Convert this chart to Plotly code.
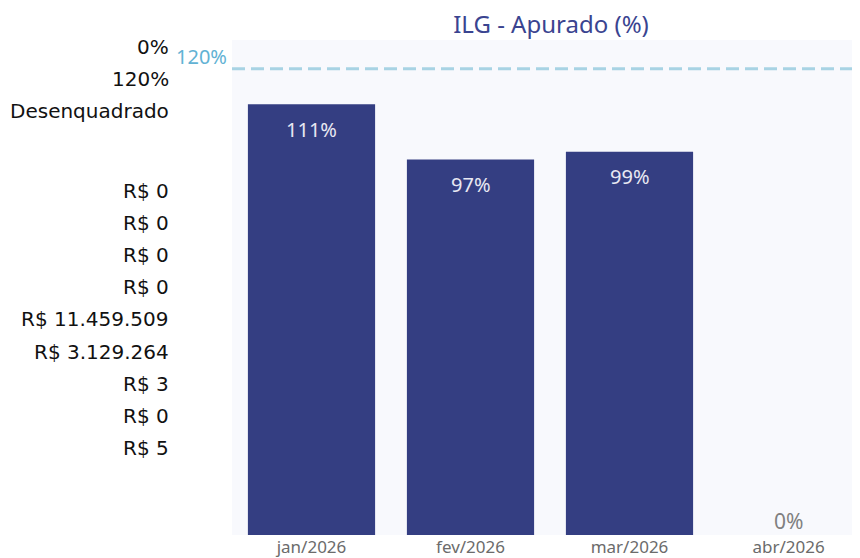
import plotly.graph_objects as go

# data
months = ["jan/2026", "fev/2026", "mar/2026", "abr/2026"]
apurado = [111, 97, 99, 0]
meta = 120
meta_label = "120%"
info_top = ["0%", "120%", "Desenquadrado"]
info_bottom = ["R$ 0", "R$ 0", "R$ 0", "R$ 0", "R$ 11.459.509",
               "R$ 3.129.264", "R$ 3", "R$ 0", "R$ 5"]

BAR = "#343e82"
y_lo, y_hi = 1.9, 127.3

# page has an 8px body margin, so the figure is a bit smaller than the window
W, H = 860, 550
plot_top = 32

fig = go.Figure()
fig.add_trace(go.Bar(x=months, y=apurado, marker=dict(color=BAR, line=dict(width=0)),
                     hoverinfo="skip", showlegend=False))

# data labels
for m, v in zip(months, apurado):
    txt = f"{v}%"
    if v > y_lo + 10:
        fig.add_annotation(x=m, y=v, xref="x", yref="y", text=txt, showarrow=False,
                           yanchor="middle", yshift=-25,
                           font=dict(family="Noto Sans", size=20, color="#e8e8f2"))
    else:
        fig.add_annotation(x=m, y=max(v, y_lo), xref="x", yref="y", text=txt, showarrow=False,
                           yanchor="bottom", yshift=-2,
                           font=dict(family="Noto Sans", size=21, color="#808080"))

# meta line
fig.add_shape(type="line", xref="paper", yref="y", x0=0, x1=1, y0=meta, y1=meta,
              line=dict(color="#a8d3e4", width=3, dash="13px,6px"))
fig.add_annotation(xref="paper", yref="y", x=0, y=meta, xshift=-3, yshift=-3, text=meta_label,
                   showarrow=False, xanchor="right", yanchor="bottom",
                   font=dict(family="Noto Sans", size=20, color="#62b2d4"))

# left info column (pixel offsets from top of plot area)
for i, t in enumerate(info_top):
    fig.add_annotation(xref="paper", yref="paper", x=0, y=1, xshift=-61,
                       yshift=-(47 + 32 * i - 40), text=t, showarrow=False,
                       xanchor="right", yanchor="middle",
                       font=dict(family="DejaVu Sans", size=20, color="#111111"))
for i, t in enumerate(info_bottom):
    fig.add_annotation(xref="paper", yref="paper", x=0, y=1, xshift=-61,
                       yshift=-(191 + 32.1 * i - 40), text=t, showarrow=False,
                       xanchor="right", yanchor="middle",
                       font=dict(family="DejaVu Sans", size=20, color="#111111"))

fig.update_layout(
    width=W, height=H,
    margin=dict(l=224, r=0, t=plot_top, b=20),
    paper_bgcolor="#ffffff",
    plot_bgcolor="#f8f9fd",
    bargap=0.2,
    title=dict(text="ILG - Apurado (%)", x=543 / W, xanchor="center", xref="container",
               y=1 - 17 / H, yanchor="middle",
               font=dict(family="Noto Sans", size=24, color="#3a4490")),
)
fig.update_xaxes(range=[-0.5, 3.5], showgrid=False, showline=False, ticks="",
                 tickfont=dict(family="Noto Sans", size=17, color="#6b6b6b"), ticklabelstandoff=0)
fig.update_yaxes(range=[y_lo, y_hi], visible=False)

fig.write_html("out.html")
